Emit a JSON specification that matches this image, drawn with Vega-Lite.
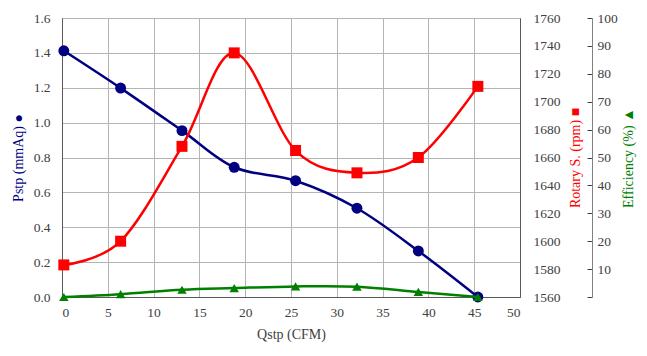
{
  "$schema": "https://vega.github.io/schema/vega-lite/v6.json",
  "width": 458,
  "height": 279,
  "autosize": {"type": "none"},
  "padding": {"left": 62, "top": 18, "right": 127, "bottom": 59},
  "background": "white",
  "config": {
    "font": "Liberation Serif",
    "view": {"stroke": "#595959", "strokeWidth": 1},
    "axis": {
      "labelFont": "Liberation Serif",
      "titleFont": "Liberation Serif",
      "labelFontSize": 13.5,
      "titleFontSize": 14,
      "labelColor": "#404040",
      "titleColor": "#404040",
      "titleFontWeight": "normal",
      "domainColor": "#595959",
      "tickColor": "#404040",
      "gridColor": "#b4b4b4",
      "ticks": false
    }
  },
  "data": {
    "values": [
      {"q": 0.2, "pstp": 1.412, "rpm": 1583, "eff": 0.0},
      {"q": 6.4, "pstp": 1.198, "rpm": 1600, "eff": 1.0},
      {"q": 13.1, "pstp": 0.954, "rpm": 1668, "eff": 2.6},
      {"q": 18.8, "pstp": 0.744, "rpm": 1735, "eff": 3.2},
      {"q": 25.5, "pstp": 0.667, "rpm": 1665, "eff": 3.8},
      {"q": 32.2, "pstp": 0.509, "rpm": 1649, "eff": 3.7},
      {"q": 38.9, "pstp": 0.264, "rpm": 1660, "eff": 1.8},
      {"q": 45.4, "pstp": 0.0, "rpm": 1711, "eff": 0.0}
    ]
  },
  "encoding": {
    "x": {
      "field": "q",
      "type": "quantitative",
      "scale": {"domain": [0, 50], "nice": false},
      "axis": {
        "values": [0, 5, 10, 15, 20, 25, 30, 35, 40, 45, 50],
        "title": "Qstp (CFM)",
        "labelFont": "Liberation Serif",
        "grid": true,
        "labelPadding": 8,
        "titlePadding": 9
      }
    }
  },
  "layer": [
    {
      "encoding": {
        "y": {
          "field": "pstp",
          "type": "quantitative",
          "scale": {"domain": [0, 1.6], "nice": false},
          "axis": {
            "orient": "left",
            "values": [0, 0.2, 0.4, 0.6, 0.8, 1.0, 1.2, 1.4, 1.6],
            "format": ".1f",
            "labelFont": "Liberation Serif",
            "grid": true,
            "title": "Pstp (mmAq) ●",
            "titleColor": "#000080",
            "labelPadding": 12,
            "titlePadding": 8
          }
        }
      },
      "layer": [
        {"mark": {"type": "line", "color": "#000080", "strokeWidth": 2.5, "interpolate": "cardinal"}},
        {"mark": {"type": "point", "shape": "circle", "filled": true, "color": "#000080", "size": 120, "opacity": 1}}
      ]
    },
    {
      "encoding": {
        "y": {
          "field": "rpm",
          "type": "quantitative",
          "scale": {"domain": [1560, 1760], "nice": false, "zero": false},
          "axis": {
            "orient": "right",
            "values": [1560, 1580, 1600, 1620, 1640, 1660, 1680, 1700, 1720, 1740, 1760],
            "format": "d",
            "labelFont": "Liberation Serif",
            "grid": false,
            "title": "Rotary S. (rpm) ■",
            "titleColor": "#ff0000",
            "titleAngle": -90,
            "titleBaseline": "top",
            "labelPadding": 13,
            "titlePadding": 8
          }
        }
      },
      "layer": [
        {"mark": {"type": "line", "color": "#ff0000", "strokeWidth": 2.5, "interpolate": "cardinal"}},
        {"mark": {"type": "point", "shape": "square", "filled": true, "color": "#ff0000", "size": 121, "opacity": 1}}
      ]
    },
    {
      "encoding": {
        "y": {
          "field": "eff",
          "type": "quantitative",
          "scale": {"domain": [0, 100], "nice": false},
          "axis": {
            "orient": "right",
            "offset": 72,
            "values": [0, 10, 20, 30, 40, 50, 60, 70, 80, 90, 100],
            "labelExpr": "datum.value == 0 ? '' : datum.label",
            "labelFont": "Liberation Serif",
            "grid": false,
            "ticks": true,
            "tickSize": -5,
            "domainColor": "#808080",
            "title": "Efficiency (%) ▲",
            "titleColor": "#008000",
            "titleAngle": -90,
            "titleBaseline": "top",
            "labelPadding": 10,
            "titlePadding": 4
          }
        }
      },
      "layer": [
        {"mark": {"type": "line", "color": "#008000", "strokeWidth": 2.5, "interpolate": "cardinal"}},
        {"mark": {"type": "point", "shape": "triangle-up", "filled": true, "color": "#008000", "size": 90, "opacity": 1}}
      ]
    }
  ],
  "resolve": {"scale": {"y": "independent"}}
}
